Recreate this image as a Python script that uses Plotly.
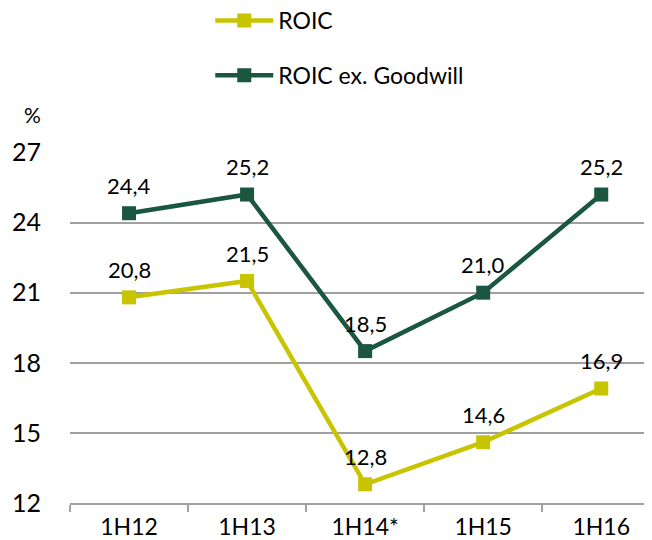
import plotly.graph_objects as go

categories = ["1H12", "1H13", "1H14*", "1H15", "1H16"]
roic = [20.8, 21.5, 12.8, 14.6, 16.9]
roic_ex_gw = [24.4, 25.2, 18.5, 21.0, 25.2]
y_ticks = [12, 15, 18, 21, 24, 27]

YELLOW = "#C8C400"
GREEN = "#1A5640"
FONT = "Lato, Open Sans, sans-serif"

def fmt(v):
    return f"{v:.1f}".replace(".", ",")

fig = go.Figure()
fig.add_trace(go.Scatter(
    x=categories, y=roic, name="ROIC", mode="lines+markers",
    line=dict(color=YELLOW, width=4.5),
    marker=dict(symbol="square", size=14, color=YELLOW),
    legendgroup="a",
))
fig.add_trace(go.Scatter(
    x=categories, y=roic_ex_gw, name="ROIC ex. Goodwill", mode="lines+markers",
    line=dict(color=GREEN, width=4.5),
    marker=dict(symbol="square", size=14, color=GREEN),
    legendgroup="b",
))

for series in (roic, roic_ex_gw):
    for c, v in zip(categories, series):
        fig.add_annotation(x=c, y=v, text=fmt(v), showarrow=False,
                           yshift=28, font=dict(size=22, color="#000", family=FONT))

fig.add_annotation(xref="paper", yref="paper", x=-0.064, y=1.106, text="%",
                   showarrow=False, xanchor="center", yanchor="middle",
                   font=dict(size=21, color="#000", family=FONT))

fig.update_layout(
    width=644, height=532,
    margin=dict(l=62, r=0, t=144, b=37, autoexpand=False),
    paper_bgcolor="white", plot_bgcolor="white",
    font=dict(family=FONT, size=23, color="#000"),
    showlegend=True,
    legend=dict(
        x=0.241, y=1.436, xanchor="left", yanchor="top",
        bgcolor="rgba(0,0,0,0)", font=dict(size=23, family=FONT),
        tracegroupgap=22, itemwidth=58, traceorder="grouped",
    ),
    xaxis=dict(
        type="category", range=[-0.5, 4.43],
        showgrid=False, showline=True, linecolor="#A0A0A0", linewidth=2,
        ticks="outside", tickson="boundaries", ticklen=7, tickcolor="#A0A0A0", tickwidth=2,
        tickfont=dict(size=23, family=FONT), ticklabelstandoff=2,
        zeroline=False,
    ),
    yaxis=dict(
        range=[12, 27.02], tickvals=y_ticks,
        showgrid=True, gridcolor="#A0A0A0", gridwidth=2,
        showline=False, zeroline=False, ticks="",
        tickfont=dict(size=25, family=FONT), ticklabelstandoff=28,
    ),
)

fig.write_html("out.html")
